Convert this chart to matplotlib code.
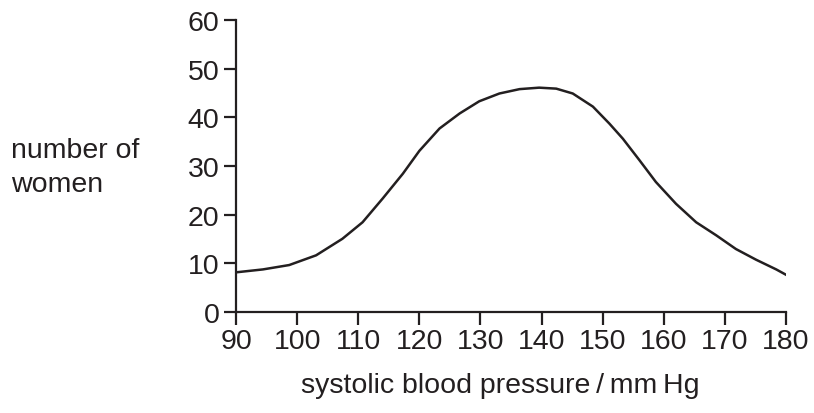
import matplotlib
matplotlib.use("Agg")
import matplotlib.pyplot as plt

plt.rcParams['font.family'] = ['Liberation Sans', 'DejaVu Sans']

# values
pressure = [90, 94.4, 98.7, 103.1, 107.4, 110.7, 114, 117.3, 120, 123.3, 126.6, 129.8, 133.1, 136.4, 139.6,
            142.4, 145.1, 148.4, 151.1, 153.3, 156, 158.7, 162, 165.3, 168.6, 171.8, 175.1, 178.4, 180]
women = [8.1, 8.7, 9.6, 11.6, 15.0, 18.4, 23.3, 28.4, 33.1, 37.7, 40.8, 43.3, 44.9, 45.8, 46.1,
         45.9, 44.9, 42.2, 38.7, 35.6, 31.2, 26.7, 22.2, 18.4, 15.7, 12.9, 10.7, 8.7, 7.6]

x_ticks = [90, 100, 110, 120, 130, 140, 150, 160, 170, 180]
y_ticks = [0, 10, 20, 30, 40, 50, 60]

fig = plt.figure(figsize=(8.14, 4.14), dpi=100)
ax = fig.add_axes([0.290, 0.2447, 0.6756, 0.7043])

ax.plot(pressure, women, color="#231f20", linewidth=1.8, solid_joinstyle="round")

ax.set_xlim(90, 180)
ax.set_ylim(0, 60)
ax.set_xticks(x_ticks)
ax.set_yticks(y_ticks)

for s in ["top", "right"]:
    ax.spines[s].set_visible(False)
for s in ["left", "bottom"]:
    ax.spines[s].set_linewidth(1.6)
    ax.spines[s].set_color("#231f20")

ax.tick_params(direction="out", length=9, width=1.6, color="#231f20",
               labelsize=20.5, labelcolor="#231f20", pad=3)

fig.text(0.013, 0.594, "number of\nwomen", ha="left", va="center",
         fontsize=20.5, color="#231f20", linespacing=1.4)
fig.text(0.615, 0.068, "systolic blood pressure\u2009/\u2009mm\u2009Hg", ha="center",
         va="center", fontsize=20.5, color="#231f20")

fig.savefig("out.png", dpi=100)
